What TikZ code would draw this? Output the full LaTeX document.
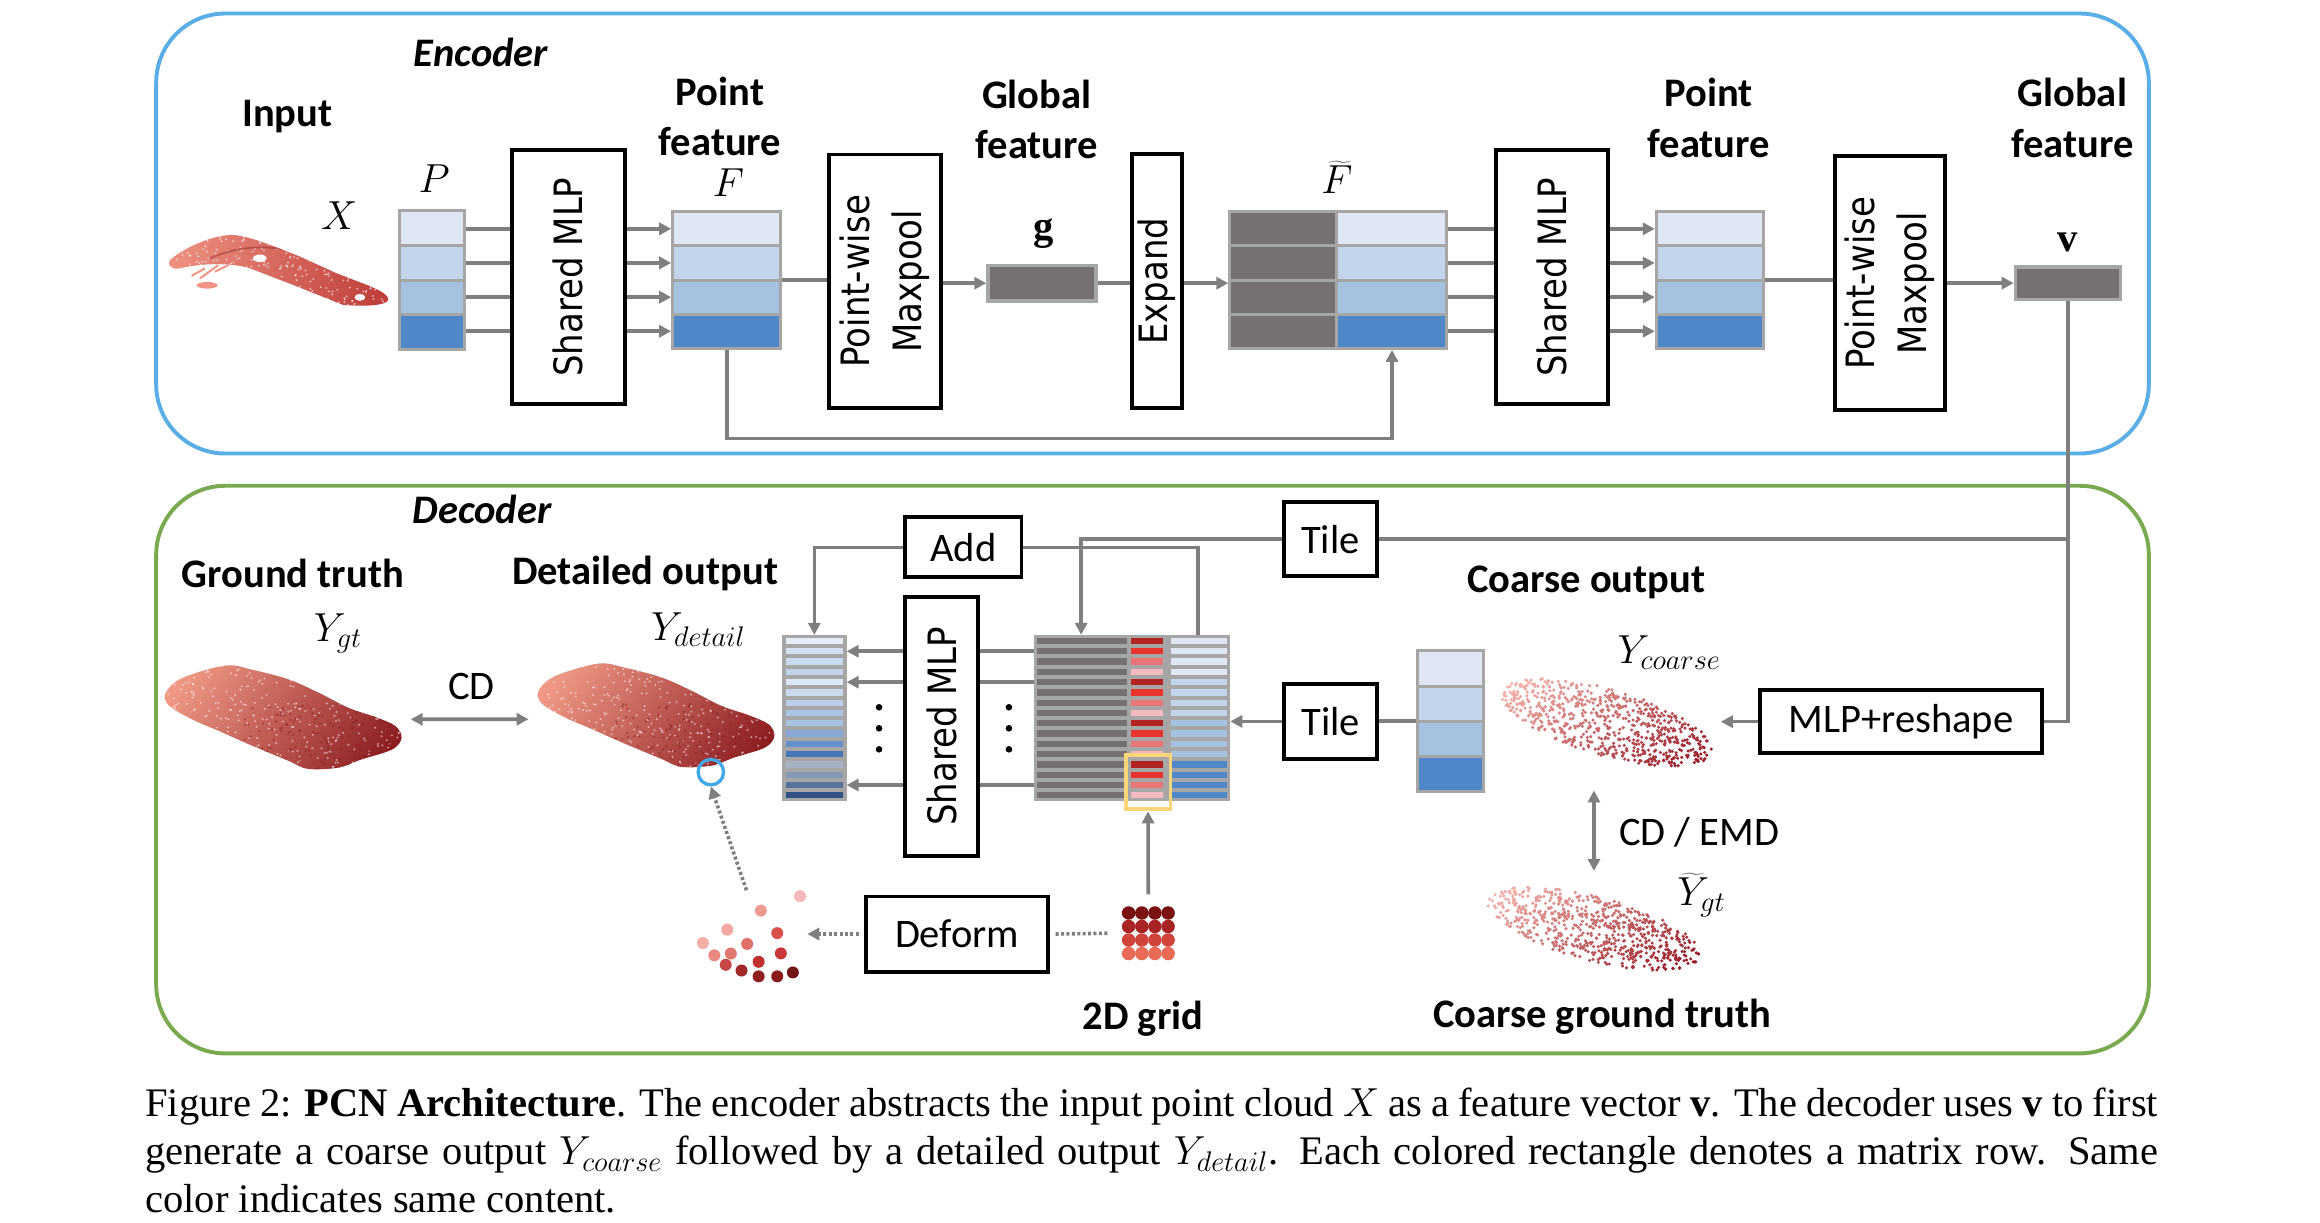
\RequirePackage{fix-cm}
\documentclass[tikz,border=0pt]{standalone}
\usepackage{fontspec}
\setmainfont{Liberation Serif}
\newfontfamily\tahfont[FakeStretch=0.87]{DejaVu Sans}
\newfontfamily\calfont{Carlito}
\usetikzlibrary{arrows.meta}

\definecolor{lgray}{RGB}{127,127,127}
\definecolor{mgray}{RGB}{166,166,166}
\definecolor{dcell}{RGB}{118,113,113}
\definecolor{bA}{RGB}{222,231,243}
\definecolor{bB}{RGB}{195,213,234}
\definecolor{bC}{RGB}{165,194,225}
\definecolor{bD}{RGB}{79,135,200}
\definecolor{encb}{RGB}{90,174,230}
\definecolor{decg}{RGB}{122,170,80}
\definecolor{rA}{RGB}{178,36,34}
\definecolor{rB}{RGB}{232,52,46}
\definecolor{rC}{RGB}{232,118,118}
\definecolor{rD}{RGB}{243,186,192}
\definecolor{ylw}{RGB}{249,214,122}
\definecolor{cblue}{RGB}{64,168,230}
\definecolor{d1}{HTML}{E4EDF8}\definecolor{d2}{HTML}{D2E0F2}
\definecolor{d3}{HTML}{CADAEF}\definecolor{d4}{HTML}{C0D4EC}
\definecolor{d5}{HTML}{DCE7F5}\definecolor{d6}{HTML}{C9DAEF}
\definecolor{d7}{HTML}{B9CFEA}\definecolor{d8}{HTML}{A9C4E5}
\definecolor{d9}{HTML}{A8C2E1}\definecolor{d10}{HTML}{87A8D4}
\definecolor{d11}{HTML}{6690C8}\definecolor{d12}{HTML}{4575B5}
\definecolor{d13}{HTML}{A6B2C4}\definecolor{d14}{HTML}{8398B4}
\definecolor{d15}{HTML}{58739A}\definecolor{d16}{HTML}{2F5282}
\definecolor{carL}{HTML}{F09A86}
\definecolor{carM}{HTML}{CC4A44}
\definecolor{carD}{HTML}{8A1A1E}
\definecolor{inpL}{HTML}{F09484}
\definecolor{inpD}{HTML}{BC3A36}
\definecolor{clt}{HTML}{F4B2AA}
\definecolor{cdk}{HTML}{981A28}

\tikzset{
  box/.style={draw=black, line width=2.6pt, fill=white, inner sep=0pt,
    font=\tahfont\fontsize{26}{34.6}\selectfont},
  cbox/.style={draw=black, line width=2.6pt, fill=white, inner sep=0pt,
    font=\calfont\fontsize{27}{32}\selectfont},
  conn/.style={draw=lgray, line width=2.4pt},
  arr/.style={conn, -{Triangle[length=8pt,width=8pt]}},
  darr/.style={conn, {Triangle[length=8pt,width=8pt]}-{Triangle[length=8pt,width=8pt]}},
  dotc/.style={draw=lgray, line width=2.4pt, dash pattern=on 2pt off 1.6pt},
  dotarr/.style={dotc, -{Triangle[length=8pt,width=8pt]}},
  lbl/.style={font=\calfont\bfseries\fontsize{27}{33.7}\selectfont, align=center, inner sep=0pt},
  ilbl/.style={font=\calfont\bfseries\itshape\fontsize{27}{32}\selectfont, inner sep=0pt},
  txt/.style={font=\calfont\fontsize{27}{32}\selectfont, inner sep=0pt},
  mth/.style={font=\fontsize{27}{30}\selectfont, inner sep=0pt},
  mat/.style={fill=mgray, inner sep=0pt, outer sep=0pt},
  ghost/.style={inner sep=0pt, outer sep=0pt},
  capt/.style={font=\fontsize{27}{32.4}\selectfont, inner sep=0pt},
}

\newcommand\rowbars[6]{%
  \foreach \rc [count=\ri from 0] in {#6} {%
    \fill[\rc] (#1,{#3+\ri*#4}) rectangle (#2,{#3+\ri*#4+#5});}}

\newcommand\carbody{%
  \begin{scope}
    \clip plot[smooth cycle, tension=0.55] coordinates {(110.3,461.4) (121.4,451.5) (150.2,443.2)
      (168,446) (192.4,452.5) (212.4,461.4) (232.4,471.5) (250.1,477.5) (263.5,483.6)
      (267.4,491.4) (261.2,499.1) (240,506) (225.7,511.2) (205,512) (192.4,506.8)
      (165.8,495.7) (145.8,486.8) (128.2,479.2) (112.5,469.8)};
    \shade[top color=carL, middle color=carM, bottom color=carD, shading angle=55] (100,430) rectangle (280,525);
    \foreach \k in {1,...,420} {\fill[white, opacity=0.5] ({106+166*rnd},{440+76*rnd}) circle (0.75);}
    \foreach \k in {1,...,160} {\fill[carD, opacity=0.45] ({160+110*rnd},{470+46*rnd}) circle (0.9);}
  \end{scope}}

% cx, cy, ax, shear, bv
\newcommand\coarsecloud[5]{%
  \foreach \k in {1,...,700} {%
    \pgfmathsetmacro\qr{sqrt(rnd)}%
    \pgfmathsetmacro\qt{360*rnd}%
    \pgfmathsetmacro\qu{\qr*cos(\qt)}%
    \pgfmathsetmacro\qv{\qr*sin(\qt)}%
    \pgfmathtruncatemacro\qp{min(100,max(0,50+48*\qu+18*\qv))}%
    \fill[cdk!\qp!clt] ({#1+#3*\qu},{#2+#4*\qu+#5*\qv}) circle (1.15);
  }}

\begin{document}
\begin{tikzpicture}[x=1pt,y=-1pt]
\pgfmathsetseed{7}
\useasboundingbox (0,0) rectangle (1545,813.8);
\fill[white] (0,0) rectangle (1545,813.8);

% frames
\draw[encb, line width=2.6pt, rounded corners=46pt] (104,9) rectangle (1431,302);
\draw[decg, line width=2.6pt, rounded corners=46pt] (104,323.5) rectangle (1431,701.5);

% ================= ENCODER =================
\node[ilbl] (enclab) at (320.3,34.9) {Encoder};
\node[lbl] (inlab) at (191.4,77.6) {Input};
\node[mth] (xlab) at (225.9,143.8) {$X$};
\node[mth] (plab) at (289.2,119) {$P$};
\node[lbl] (pf1lab) at (479.5,77.5) {Point\\feature};
\node[mth] (flab) at (485.1,121.3) {$F$};
\node[lbl] (gf1lab) at (690.4,79.4) {Global\\feature};
\node[mth] (glab) at (694.9,155.5) {$\mathbf{g}$};
\node[mth] (ftlab) at (890.3,117.9) {$\widetilde{F}$};
\node[lbl] (pf2lab) at (1138,78.5) {Point\\feature};
\node[lbl] (gf2lab) at (1380,78.5) {Global\\feature};
\node[mth] (vlab) at (1377,161.7) {$\mathbf{v}$};

% input partial point cloud
\node[ghost, minimum width=147, minimum height=50] (xin) at (186,179) {};
\begin{scope}
  \clip (113.2,173.1) .. controls (125,163) and (145,156) .. (155.4,156.5)
    .. controls (165,157) and (180,163) .. (199.8,170.9) -- (224.2,182) -- (245,190)
    .. controls (252,193) and (259,196) .. (258.5,200)
    .. controls (256,204) and (240,204) .. (228.6,203.1) -- (195.3,189.8) -- (166.5,178.7)
    .. controls (155,175) and (135,175) .. (119.9,178.7)
    .. controls (114,180) and (111,176) .. (113.2,173.1) -- cycle;
  \shade[left color=inpL, right color=inpD] (110,150) rectangle (262,208);
  \foreach \k in {1,...,380} {\fill[white, opacity=0.6] ({110+150*rnd},{154+52*rnd}) circle (0.7);}
  \draw[inpD!80!black, line width=1.2pt, opacity=0.5] (140,172) .. controls (160,163) and (185,162) .. (205,171);
  \fill[white] (173,172) ellipse (4.5 and 2.5);
  \fill[white] (239.7,198) ellipse (3.5 and 2.3);
\end{scope}
\draw[inpL, line width=1.3pt] (127.6,183.8) -- (136.5,178.7);
\draw[inpL, line width=1.3pt] (133.2,185.4) -- (145.4,176.5);
\draw[inpL, line width=1.3pt] (143.2,180.9) -- (152.1,176.5);
\fill[inpL] (138,190) ellipse (7 and 2.2);

% matrices
\node[mat, minimum width=45.6, minimum height=95] (P) at (287.8,186.5) {};
\rowbars{267}{308.6}{141}{23.25}{21.25}{bA,bB,bC,bD}
\node[mat, minimum width=74, minimum height=93] (F) at (484,186.5) {};
\rowbars{449}{519}{142}{22.75}{20.75}{bA,bB,bC,bD}
\node[mat, minimum width=74.1, minimum height=25.8] (g) at (693.85,188.6) {};
\fill[dcell] (659,177.9) rectangle (728.7,199.3);
\node[mat, minimum width=146, minimum height=93] (Ft) at (891,186.5) {};
\rowbars{820}{889.3}{142}{22.75}{20.75}{dcell,dcell,dcell,dcell}
\rowbars{891.3}{962}{142}{22.75}{20.75}{bA,bB,bC,bD}
\node[mat, minimum width=73.5, minimum height=93] (PF) at (1138.75,186.5) {};
\rowbars{1104}{1173.5}{142}{22.75}{20.75}{bA,bB,bC,bD}
\node[mat, minimum width=72.4, minimum height=23.7] (v) at (1377.2,188.55) {};
\fill[dcell] (1343.2,178.9) rectangle (1411.2,198.2);
\coordinate (ftb) at (927,233);

% boxes
\node[box, minimum width=75, minimum height=169] (mlp1) at (378.5,184.5) {\rotatebox{90}{Shared MLP}};
\node[box, minimum width=75, minimum height=168.8] (mp1) at (589.3,187.3)
  {\rotatebox{90}{\begin{tabular}{@{}c@{}}Point-wise\\Maxpool\end{tabular}}};
\node[box, minimum width=33, minimum height=169.5] (exp) at (770.5,187.25) {\rotatebox{90}{Expand}};
\node[box, minimum width=75, minimum height=169] (mlp2) at (1033.5,184.5) {\rotatebox{90}{Shared MLP}};
\node[box, minimum width=73.4, minimum height=169.2] (mp2) at (1258.4,188.6)
  {\rotatebox{90}{\begin{tabular}{@{}c@{}}Point-wise\\Maxpool\end{tabular}}};

% encoder connectors
\foreach \yy in {152.4,175.1,197.9,220.6} {
  \draw[conn] (P.east |- 0,\yy) -- (mlp1.west |- 0,\yy);
  \draw[arr] (mlp1.east |- 0,\yy) -- (F.west |- 0,\yy);
  \draw[conn] (Ft.east |- 0,\yy) -- (mlp2.west |- 0,\yy);
  \draw[arr] (mlp2.east |- 0,\yy) -- (PF.west |- 0,\yy);
}
\draw[conn] (F.east) -- (F.east -| mp1.west);
\draw[arr] (mp1.east |- g.west) -- (g.west);
\draw[conn] (g.east) -- (g.east -| exp.west);
\draw[arr] (exp.east |- g.east) -- (Ft.west |- g.east);
\draw[arr] (F.south) -- (F.south |- 0,292) -| (ftb);
\draw[conn] (PF.east) -- (PF.east -| mp2.west);
\draw[arr] (mp2.east |- v.west) -- (v.west);

% ================= DECODER =================
\node[ilbl] (declab) at (321,339.5) {Decoder};
\node[lbl] (gtlab) at (195,382) {Ground truth};
\node[lbl] (dolab) at (429.6,382) {Detailed output};
\node[mth] (ygt) at (225,422) {$Y_{gt}$};
\node[mth] (ydet) at (465,419.5) {$Y_{detail}$};
\node[txt] (cdlab) at (314,457) {CD};
\node[lbl] (colab) at (1056.4,388) {Coarse output};
\node[mth] (ycoarse) at (1111.5,434.8) {$Y_{coarse}$};
\node[txt] (emdlab) at (1131.6,554.3) {CD / EMD};
\node[mth] (ygtt) at (1133,596) {$\widetilde{Y}_{gt}$};
\node[lbl] (cgtlab) at (1067,677) {Coarse ground truth};
\node[lbl] (gridlab) at (761.2,678.1) {2D grid};

% dense clouds
\node[ghost, minimum width=160.3, minimum height=70.4] (gtc) at (188.65,479) {};
\carbody
\node[ghost, minimum width=161.8, minimum height=72.9] (dtc) at (437.7,478.95) {};
\begin{scope}[shift={(248.3,-1.3)}]
  \carbody
\end{scope}
\node[circle, draw=cblue, line width=2.2pt, minimum size=17pt, inner sep=0pt] (circ) at (473.4,514.2) {};

% coarse clouds
\node[ghost, minimum width=152, minimum height=66] (cco) at (1070,481) {};
\coarsecloud{1070}{481}{70}{18}{23}
\node[ghost, minimum width=147, minimum height=65] (cgt) at (1061.5,618.5) {};
\coarsecloud{1061.5}{618.5}{71}{17}{22}

% decoder matrices
\node[mat, minimum width=45.7, minimum height=95.6] (C) at (965.85,480.3) {};
\rowbars{945}{986.7}{434.5}{23.4}{21.4}{bA,bB,bC,bD}
\node[mat, minimum width=43, minimum height=110.9] (D) at (542.3,478.25) {};
\rowbars{523.1}{561.6}{424.8}{6.85}{4.15}{d1,d2,d3,d4,d5,d6,d7,d8,d9,d10,d11,d12,d13,d14,d15,d16}
\node[mat, minimum width=130.9, minimum height=110.9] (B) at (753.85,478.25) {};
\foreach \ri in {0,...,15} {\fill[dcell] (690.7,{424.8+\ri*6.85}) rectangle (750.7,{424.8+\ri*6.85+4.15});}
\rowbars{753.4}{774.5}{424.8}{6.85}{4.15}{rA,rB,rC,rD,rA,rB,rC,rD,rA,rB,rC,rD,rA,rB,rC,rD}
\rowbars{779.5}{817.1}{424.8}{6.85}{4.15}{bA,bA,bA,bA,bB,bB,bB,bB,bC,bC,bC,bC,bD,bD,bD,bD}
\node[draw=ylw, line width=2.6pt, inner sep=0pt, minimum width=29.9, minimum height=36.2] (yb) at (764.55,520.9) {};

% decoder boxes
\node[box, minimum width=48.5, minimum height=172.5] (mlp3) at (627.2,483.7) {\rotatebox{90}{Shared MLP}};
\node[cbox, minimum width=77.5, minimum height=40] (add) at (641.5,364.5) {Add};
\node[cbox, minimum width=62, minimum height=49.5] (tile1) at (886,359) {Tile};
\node[cbox, minimum width=62, minimum height=50] (tile2) at (886.1,480.4) {Tile};
\node[cbox, minimum width=188, minimum height=42] (mlpr) at (1266,480.6) {MLP+reshape};
\node[cbox, minimum width=121, minimum height=50] (deform) at (637.4,622) {Deform};

% small deformed points
\node[ghost, minimum width=73.6, minimum height=61.4] (sdots) at (500.8,623.5) {};
\foreach \px/\py/\pc in {532.8/596.8/F4B8B8, 506.7/606.4/EE9A90, 484.3/619.1/F2A8A0,
  517.6/621.4/D8504A, 468.1/628.0/F4B0A8, 497.6/628.6/E07068, 520.0/634.9/C83838,
  475.7/636.2/E88A80, 486.7/635.0/E07870, 483.3/642.5/C84848, 505.2/640.5/C03030,
  493.8/646.3/A02828, 505.2/650.2/902020, 517.6/650.2/8A1A1A, 528.0/647.6/701515} {
  \definecolor{tmpc}{HTML}{\pc}
  \fill[tmpc] (\px,\py) circle (4);
}

% 2D grid
\node[ghost, minimum width=35.3, minimum height=35.8] (grid) at (764.65,621.5) {};
\foreach \gy/\gc in {608/7A1212, 617/A82424, 626/D0443C, 635/E86B58} {
  \definecolor{tmpg}{HTML}{\gc}
  \foreach \gx in {751.6,760.4,769.1,777.9} {\fill[tmpg] (\gx,\gy) circle (4.5);}
}

% dots
\foreach \dx in {585.4,671.9} {\foreach \dy in {471,485,499} {\fill[black] (\dx,\dy) circle (2.2);}}

% decoder connectors
\draw[conn] (v.south) |- (mlpr.east);
\draw[conn] (v.south |- tile1.east) -- (tile1.east);
\draw[arr] (tile1.west) -| ([xshift=-33.85pt]B.north);
\draw[conn] ([xshift=44pt]B.north) |- (add.east);
\draw[arr] (add.west) -| (D.north);
\foreach \yy in {433.7,454.3,522.8} {
  \draw[conn] (B.west |- 0,\yy) -- (mlp3.east |- 0,\yy);
  \draw[arr] (mlp3.west |- 0,\yy) -- (D.east |- 0,\yy);
}
\draw[conn] (C.west) -- (C.west -| tile2.east);
\draw[arr] (tile2.west) -- (tile2.west -| B.east);
\draw[arr] (mlpr.west) -- (cco.east |- mlpr.west);
\draw[darr] ([xshift=4.7pt]gtc.east) -- ([xshift=-4.8pt]dtc.west);
\coordinate (emdA) at (1061.5,526.4);
\coordinate (emdB) at (1061.5,580);
\draw[darr] (emdA) -- (emdB);
\draw[arr] ([yshift=8pt]grid.north) -- (yb.south);
\draw[dotc] ([xshift=-9.6pt]grid.west) -- ([xshift=3.8pt]deform.east);
\draw[dotarr] ([xshift=-3.7pt]deform.west) -- (sdots.east |- deform.west);
\draw[dotarr] ([xshift=-3.7pt]sdots.north) -- (circ.south);

% ================= CAPTION =================
\node[capt, anchor=base west] (cap1) at (96.6,743.6)
  {\makebox[1340.4pt][s]{Figure 2: \textbf{PCN Architecture}. The encoder abstracts the input point cloud $X$ as a feature vector $\mathbf{v}$. The decoder uses $\mathbf{v}$ to first}};
\node[capt, anchor=base west] (cap2) at (96.6,775.8)
  {\makebox[1340.4pt][s]{generate a coarse output $Y_{coarse}$ followed by a detailed output $Y_{detail}$. Each colored rectangle denotes a matrix row. Same}};
\node[capt, anchor=base west] (cap3) at (96.6,807.6) {color indicates same content.};
\end{tikzpicture}
\end{document}
